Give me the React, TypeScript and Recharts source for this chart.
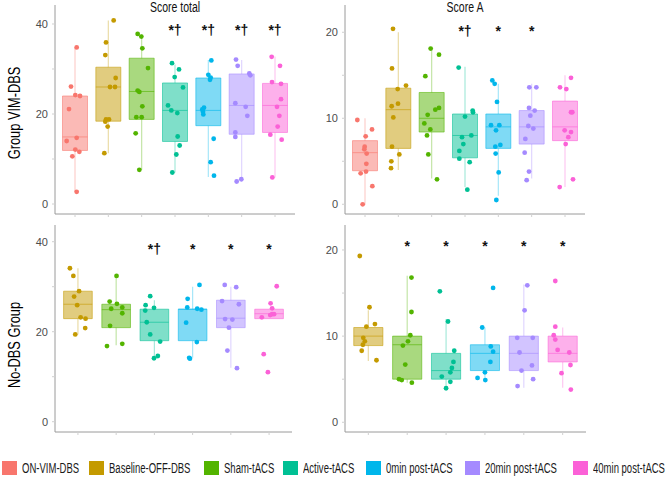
import React from "react";
import {
    ComposedChart,
    XAxis,
    YAxis,
    Scatter,
    ReferenceArea,
    ReferenceLine,
} from "recharts";

const groups = ["ON-VIM-DBS", "Baseline-OFF-DBS", "Sham-tACS", "Active-tACS", "0min post-tACS", "20min post-tACS", "40min post-tACS"];
const groupColors = ["#F8766D", "#C49A00", "#53B400", "#00C094", "#00B6EB", "#A58AFF", "#FB61D7"];

// Group VIM-DBS, Score total
const vimTotalValues = [
    [34.8, 26.1, 24.2, 24.0, 21.1, 14.7, 14.0, 12.1, 11.6, 10.6, 2.7],
    [40.8, 35.9, 33.1, 28.0, 26.0, 26.0, 18.8, 18.8, 18.3, 17.2, 11.3],
    [37.8, 37.2, 34.6, 30.2, 25.2, 24.9, 21.7, 19.3, 19.3, 15.7, 7.6],
    [31.3, 29.9, 28.2, 25.9, 21.9, 20.8, 20.2, 15.0, 13.0, 11.0, 7.0],
    [31.9, 28.7, 28.1, 27.6, 21.4, 21.0, 20.5, 19.9, 14.5, 9.3, 6.3],
    [32.1, 30.7, 29.0, 28.6, 22.4, 21.6, 19.6, 15.9, 14.9, 5.5, 5.0],
    [32.7, 30.7, 27.1, 26.7, 23.3, 21.6, 19.6, 17.2, 15.4, 14.3, 5.9],
];
const vimTotalJitter = [
    [0.05, -0.12, 0.01, 0.15, -0.18, 0.05, -0.25, 0.01, 0.13, -0.08, 0.05],
    [0.16, -0.07, -0.09, 0.22, 0.05, 0.2, -0.07, 0.02, -0.09, -0.02, -0.12],
    [-0.12, -0.01, 0.02, 0.19, -0.12, -0.07, 0.02, -0.16, 0, -0.18, -0.07],
    [-0.09, 0.12, -0.01, 0.24, -0.21, -0.11, 0.07, 0.08, 0.14, 0.04, -0.08],
    [0.09, 0, 0.07, 0.05, -0.13, -0.18, -0.16, -0.15, 0.16, 0.07, 0.17],
    [-0.17, -0.12, 0.23, 0.26, -0.19, 0.12, 0.17, -0.19, -0.19, -0.01, -0.15],
    [-0.1, 0.15, -0.09, 0.18, 0.18, 0.06, 0.13, 0.08, -0.14, 0.2, -0.08],
];
// [lower whisker, Q1, median, Q3, upper whisker]
const vimTotalBoxes = [
    [2.7, 11.9, 14.9, 24.0, 34.8],
    [11.3, 18.4, 26.0, 30.4, 40.8],
    [7.6, 18.8, 25.0, 32.4, 37.8],
    [7.0, 13.9, 20.8, 26.9, 31.0],
    [6.0, 17.4, 20.8, 28.0, 32.0],
    [5.0, 15.5, 21.9, 28.9, 32.0],
    [5.9, 15.9, 21.9, 26.8, 32.8],
];
const vimTotalMarks = ["", "", "", "*†", "*†", "*†", "*†"];

// Group VIM-DBS, Score A
const vimAValues = [
    [9.8, 8.7, 7.9, 6.7, 6.4, 5.9, 4.7, 3.8, 3.6, 2.1, 0],
    [20.4, 15.8, 13.8, 13.4, 11.7, 11.4, 10.1, 6.7, 5.8, 5.0, 4.2],
    [18.1, 17.4, 14.9, 11.2, 11.0, 10.4, 9.4, 8.7, 8.0, 5.8, 2.9],
    [15.9, 10.9, 10.7, 10.2, 8.0, 7.8, 7.0, 6.2, 5.3, 4.9, 1.7],
    [14.4, 14.0, 11.9, 9.2, 9.2, 8.6, 6.9, 6.7, 5.9, 3.7, 0.5],
    [13.6, 13.6, 11.2, 10.9, 10.3, 9.1, 8.8, 7.6, 6.0, 3.8, 2.8],
    [14.7, 13.6, 13.4, 10.7, 10.7, 8.6, 8.4, 7.8, 7.0, 2.9, 2.0],
];
const vimAJitter = [
    [-0.23, 0.21, 0.02, -0.01, -0.02, 0.05, 0.04, 0.03, -0.13, 0.22, -0.07],
    [-0.16, -0.19, 0.23, -0.02, -0.01, -0.2, -0.15, -0.19, 0.03, -0.21, -0.22],
    [-0.03, 0.22, -0.19, 0.22, 0.11, -0.12, -0.22, -0.04, -0.14, -0.1, 0.16],
    [-0.19, 0.23, 0.24, 0, 0.19, -0.09, -0.05, -0.17, -0.17, 0.14, 0.07],
    [-0.18, -0.11, -0.04, -0.22, 0.03, -0.07, 0.06, -0.09, -0.08, 0.01, -0.06],
    [-0.07, 0.14, -0.08, 0.09, -0.04, -0.1, 0.05, -0.19, -0.21, -0.08, -0.15],
    [0.18, -0.15, 0.04, 0.18, 0.22, -0.01, 0.18, 0.1, 0.02, 0.24, -0.16],
];
const vimABoxes = [
    [0, 3.9, 6.0, 7.4, 10.0],
    [4.0, 6.5, 11.0, 13.5, 20.0],
    [3.0, 8.4, 10.0, 13.0, 18.0],
    [2.0, 5.4, 8.0, 10.5, 16.0],
    [1.0, 6.5, 9.0, 10.5, 14.0],
    [3.0, 7.0, 9.0, 10.9, 14.0],
    [2.0, 7.4, 9.0, 12.0, 15.0],
];
const vimAMarks = ["", "", "", "*†", "*", "*", ""];

// No-DBS Group, Score total (Baseline .. 40min)
const noTotalValues = [
    [34.1, 32.4, 29.0, 27.8, 25.9, 23.2, 22.9, 20.8, 19.4],
    [32.4, 26.7, 26.2, 25.4, 25.1, 24.1, 21.3, 17.3, 16.8],
    [27.9, 25.9, 25.3, 24.7, 22.1, 19.4, 17.8, 14.6, 14.1],
    [30.4, 27.3, 25.4, 25.1, 24.9, 22.0, 17.7, 14.2, 14.0],
    [30.4, 29.9, 26.8, 26.1, 22.8, 22.7, 20.9, 15.8, 11.9],
    [30.1, 26.3, 25.2, 23.9, 23.9, 23.7, 23.2, 15.0, 11.0],
];
const noTotalJitter = [
    [-0.21, -0.12, 0.03, -0.1, -0.02, 0.07, 0.2, 0.19, -0.07],
    [0.01, -0.17, 0.02, 0.16, -0.13, 0.16, -0.16, 0.16, -0.24],
    [-0.11, -0.23, -0.01, -0.24, -0.2, -0.11, 0.15, 0.09, -0.01],
    [0.18, -0.13, -0.14, 0.12, 0.23, -0.17, 0.11, -0.09, -0.07],
    [-0.16, 0.14, -0.23, 0.21, -0.15, 0.04, -0.05, -0.09, 0.16],
    [0.2, 0.04, 0.08, 0.08, 0.13, 0.03, -0.19, -0.14, -0.03],
];
const noTotalBoxes = [
    [19.4, 22.9, 26.1, 29.0, 34.1],
    [17.0, 20.9, 24.9, 26.1, 32.0],
    [14.4, 18.0, 22.1, 25.0, 27.0],
    [14.2, 18.0, 25.0, 25.0, 30.0],
    [12.0, 20.9, 23.0, 27.0, 30.0],
    [22.9, 22.9, 24.0, 25.0, 25.0],
];
const noTotalMarks = ["", "", "*†", "*", "*", "*"];

// No-DBS Group, Score A
const noAValues = [
    [19.3, 13.35, 11.4, 11.1, 9.8, 9.4, 9.0, 8.3, 7.2],
    [16.8, 12.8, 10.1, 9.4, 8.9, 6.7, 5.0, 4.9, 4.6],
    [15.2, 11.7, 8.3, 7.0, 6.3, 5.8, 5.3, 4.7, 3.95],
    [15.6, 11.0, 8.8, 8.2, 7.0, 5.8, 5.15, 4.9],
    [15.9, 13.0, 9.8, 9.8, 8.1, 6.6, 6.0, 5.0, 4.2],
    [16.4, 11.1, 10.1, 9.6, 8.4, 8.1, 6.65, 5.7, 3.8],
];
const noAJitter = [
    [-0.22, 0.03, 0.17, -0.05, -0.13, -0.09, -0.14, -0.17, 0.21],
    [0.11, 0.11, 0.08, 0.02, -0.11, -0.05, -0.21, -0.14, 0.12],
    [-0.16, 0.05, 0.21, 0.19, 0.15, 0.11, -0.11, 0.11, 0],
    [0.21, -0.07, 0.15, 0.21, 0.14, 0, -0.19, 0.01],
    [0.09, 0.02, -0.17, 0.23, -0.11, 0.21, -0.06, 0.24, -0.16],
    [-0.19, -0.19, -0.23, -0.19, -0.13, 0.17, 0.2, -0.03, 0.21],
];
const noABoxes = [
    [7.1, 8.9, 10.0, 11.0, 13.0],
    [4.6, 5.0, 9.0, 10.0, 17.0],
    [4.0, 5.0, 6.0, 8.0, 12.0],
    [4.9, 6.0, 8.0, 9.0, 11.0],
    [4.0, 6.0, 8.0, 10.0, 16.0],
    [4.0, 7.0, 8.0, 10.0, 11.0],
];
const noAMarks = ["", "*", "*", "*", "*", "*"];

const totalTicks = [0, 10, 20, 30, 40];
const scoreATicks = [0, 5, 10, 15, 20];

// legend swatch left edges, px
const legendLeft = [2, 89, 204, 283, 366, 465, 573];

const SANS = "'Liberation Sans', Arial, sans-serif";
const AXIS_GREY = "#9a9a9a";

function BoxPanel({ values, jitter, boxes, marks, colorStart, domain, ticks, labelEvery, markLevel, width, height }: any) {
    const n = boxes.length;
    const centers = boxes.map((_: any, i: number) => i + 1);
    const half = 0.375;

    return (
        <ComposedChart width={width} height={height} margin={{ top: 5, right: 5, bottom: 0, left: 0 }}>
            <XAxis
                type="number"
                dataKey="x"
                domain={[0.4, n + 0.6]}
                ticks={centers}
                tickFormatter={() => ""}
                allowDataOverflow
                axisLine={{ stroke: AXIS_GREY }}
                tickLine={{ stroke: "#d0d0d0" }}
                tickSize={3}
                height={8}
            />
            <YAxis
                type="number"
                dataKey="y"
                domain={domain}
                ticks={ticks}
                tickFormatter={(v: number) => (v % labelEvery === 0 ? String(v) : "")}
                allowDataOverflow
                axisLine={{ stroke: AXIS_GREY }}
                tickLine={{ stroke: "#d0d0d0" }}
                tickSize={3}
                tickMargin={4}
                width={55}
                tick={{ fill: "#4d4d4d", fontSize: 11, fontFamily: SANS }}
            />
            {boxes.map((b: number[], i: number) => (
                <ReferenceLine
                    key={"wl" + i}
                    segment={[{ x: i + 1, y: b[0] }, { x: i + 1, y: b[1] }]}
                    stroke={groupColors[i + colorStart]}
                    strokeOpacity={0.35}
                    strokeWidth={1.2}
                    ifOverflow="visible"
                />
            ))}
            {boxes.map((b: number[], i: number) => (
                <ReferenceLine
                    key={"wh" + i}
                    segment={[{ x: i + 1, y: b[3] }, { x: i + 1, y: b[4] }]}
                    stroke={groupColors[i + colorStart]}
                    strokeOpacity={0.35}
                    strokeWidth={1.2}
                    ifOverflow="visible"
                />
            ))}
            {boxes.map((b: number[], i: number) => (
                <ReferenceArea
                    key={"bx" + i}
                    x1={i + 1 - half}
                    x2={i + 1 + half}
                    y1={b[1]}
                    y2={b[3]}
                    fill={groupColors[i + colorStart]}
                    fillOpacity={0.5}
                    stroke={groupColors[i + colorStart]}
                    strokeOpacity={0.55}
                    strokeWidth={1}
                    ifOverflow="visible"
                />
            ))}
            {boxes.map((b: number[], i: number) => (
                <ReferenceLine
                    key={"md" + i}
                    segment={[{ x: i + 1 - half, y: b[2] }, { x: i + 1 + half, y: b[2] }]}
                    stroke={groupColors[i + colorStart]}
                    strokeOpacity={0.6}
                    strokeWidth={1}
                    ifOverflow="visible"
                />
            ))}
            {values.map((vals: number[], i: number) => {
                const c = groupColors[i + colorStart];
                const pts = vals.map((v, k) => ({ x: i + 1 + jitter[i][k], y: v }));
                return (
                    <Scatter
                        key={"pt" + i}
                        data={pts}
                        isAnimationActive={false}
                        shape={(p: any) => <circle cx={p.cx} cy={p.cy} r={2.4} fill={c} />}
                    />
                );
            })}
            <Scatter
                data={marks
                    .map((m: string, i: number) => ({ x: i + 1, y: markLevel, m }))
                    .filter((d: any) => d.m)}
                isAnimationActive={false}
                shape={(p: any) => (
                    <text x={p.cx} y={p.cy} textAnchor="middle" fontSize={14} fontWeight="bold" fill="#111" fontFamily={SANS}>
                        {p.payload.m}
                    </text>
                )}
            />
        </ComposedChart>
    );
}

function YLabel({ text, cx, cy }: { text: string; cx: number; cy: number }) {
    return (
        <div
            style={{
                position: "absolute",
                left: cx - 100,
                top: cy - 10,
                width: 200,
                height: 20,
                lineHeight: "20px",
                textAlign: "center",
                fontSize: 16,
                color: "#000",
                transform: "rotate(-90deg) scaleX(0.8)",
            }}
        >
            {text}
        </div>
    );
}

function Title({ text, left }: { text: string; left: number }) {
    return (
        <div
            style={{
                position: "absolute",
                left,
                top: 0,
                width: 240,
                lineHeight: "15px",
                textAlign: "center",
                fontSize: 14,
                color: "#111",
                transform: "scaleX(0.75)",
            }}
        >
            {text}
        </div>
    );
}

export default function App() {
    return (
        <div style={{ position: "absolute", left: 0, top: 0, width: 669, height: 478, background: "#fff", fontFamily: SANS }}>
            <div style={{ position: "absolute", left: 0, top: 0 }}>
                <BoxPanel
                    values={vimTotalValues}
                    jitter={vimTotalJitter}
                    boxes={vimTotalBoxes}
                    marks={vimTotalMarks}
                    colorStart={0}
                    domain={[-2.22, 44.22]}
                    ticks={totalTicks}
                    labelEvery={20}
                    markLevel={37.6}
                    width={300}
                    height={222}
                />
            </div>
            <div style={{ position: "absolute", left: 290, top: 0 }}>
                <BoxPanel
                    values={vimAValues}
                    jitter={vimAJitter}
                    boxes={vimABoxes}
                    marks={vimAMarks}
                    colorStart={0}
                    domain={[-1.13, 23.17]}
                    ticks={scoreATicks}
                    labelEvery={10}
                    markLevel={19.6}
                    width={300}
                    height={222}
                />
            </div>
            <div style={{ position: "absolute", left: 0, top: 220 }}>
                <BoxPanel
                    values={noTotalValues}
                    jitter={noTotalJitter}
                    boxes={noTotalBoxes}
                    marks={noTotalMarks}
                    colorStart={1}
                    domain={[-2.29, 43.71]}
                    ticks={totalTicks}
                    labelEvery={20}
                    markLevel={37.3}
                    width={297}
                    height={220}
                />
            </div>
            <div style={{ position: "absolute", left: 290, top: 220 }}>
                <BoxPanel
                    values={noAValues}
                    jitter={noAJitter}
                    boxes={noABoxes}
                    marks={noAMarks}
                    colorStart={1}
                    domain={[-1.13, 22.9]}
                    ticks={scoreATicks}
                    labelEvery={10}
                    markLevel={19.9}
                    width={301}
                    height={220}
                />
            </div>

            <Title text="Score total" left={55} />
            <Title text="Score A" left={345} />

            <YLabel text="Group VIM-DBS" cx={15} cy={113} />
            <YLabel text="No-DBS Group" cx={15} cy={345} />

            {/* legend */}
            {groups.map((g, i) => (
                <div key={g} style={{ position: "absolute", left: legendLeft[i], top: 461, height: 14, display: "flex", alignItems: "center" }}>
                    <div style={{ width: 15, height: 14, background: groupColors[i] }} />
                    <span
                        style={{
                            marginLeft: 5,
                            fontSize: 14,
                            color: "#1a1a1a",
                            whiteSpace: "nowrap",
                            display: "inline-block",
                            transform: "scaleX(0.68)",
                            transformOrigin: "left center",
                        }}
                    >
                        {g}
                    </span>
                </div>
            ))}
        </div>
    );
}
